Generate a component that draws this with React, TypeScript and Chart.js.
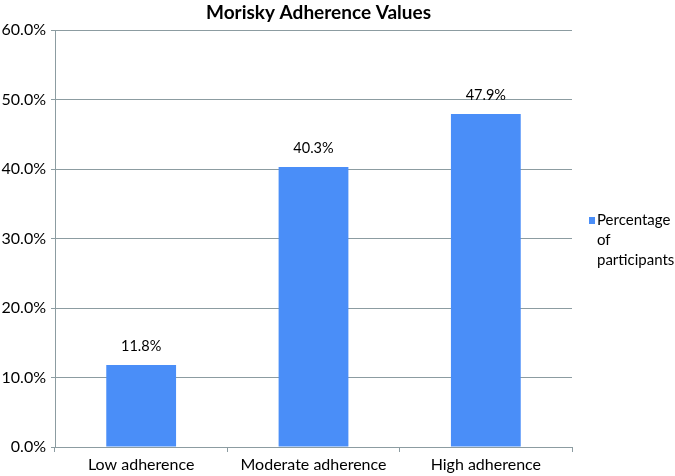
import React, { useEffect, useRef } from "react";
import { Chart, registerables } from "chart.js";

Chart.register(...registerables);

const categories = ["Low adherence", "Moderate adherence", "High adherence"];
const values = [11.8, 40.3, 47.9];
const seriesName = ["Percentage", "of", "participants"];
const titleText = "Morisky Adherence Values";
const yTicks = [0, 10, 20, 30, 40, 50, 60];

const FONT = "Lato, 'Open Sans', sans-serif";
const BAR = "#4A8EF8";
const GRID = "#8C9CA1";

const overlay = {
  id: "overlay",
  afterDatasetsDraw(chart: any) {
    const ctx = chart.ctx;
    const area = chart.chartArea;
    ctx.save();
    // title
    ctx.fillStyle = "#000";
    ctx.font = `bold 19px ${FONT}`;
    ctx.textAlign = "center";
    ctx.textBaseline = "middle";
    ctx.fillText(titleText, (area.left + area.right) / 2 + 5, 13);
    // data labels
    ctx.font = `14.5px ${FONT}`;
    const meta = chart.getDatasetMeta(0);
    meta.data.forEach((el: any, i: number) => {
      ctx.fillText(values[i].toFixed(1) + "%", el.x, el.y - 19);
    });
    // legend
    const lx = area.right + 25;
    const ly = 220;
    ctx.fillStyle = BAR;
    ctx.fillRect(lx - 8, ly - 3, 6, 7);
    ctx.fillStyle = "#000";
    ctx.textAlign = "left";
    ctx.font = `15px ${FONT}`;
    seriesName.forEach((t, i) => ctx.fillText(t, lx, ly + i * 20));
    ctx.restore();
  },
};

export default function App() {
  const ref = useRef<HTMLCanvasElement>(null);
  useEffect(() => {
    const chart = new Chart(ref.current!, {
      type: "bar",
      data: {
        labels: categories,
        datasets: [
          {
            label: seriesName.join(" "),
            data: values,
            backgroundColor: BAR,
            barPercentage: 0.405,
            categoryPercentage: 1,
          },
        ],
      },
      options: {
        animation: false,
        responsive: false,
        maintainAspectRatio: false,
        layout: { padding: { left: 0, right: 103, top: 30, bottom: 0 } },
        plugins: {
          legend: { display: false },
          title: { display: false },
          tooltip: { enabled: false },
        },
        scales: {
          x: {
            afterFit: (s: any) => {
              s.height = 29;
            },
            grid: {
              display: true,
              drawOnChartArea: false,
              drawTicks: true,
              tickLength: 5,
              offset: true,
              color: GRID,
            },
            border: { color: GRID, width: 1 },
            ticks: { color: "#000", font: { family: FONT, size: 16 }, padding: 3 },
          },
          y: {
            min: 0,
            max: 60,
            afterFit: (s: any) => {
              s.width = 55;
            },
            afterBuildTicks: (s: any) => {
              s.ticks = yTicks.map((v) => ({ value: v }));
            },
            grid: { color: GRID, tickLength: 4 },
            border: { color: GRID, width: 1 },
            ticks: {
              color: "#000",
              font: { family: FONT, size: 16 },
              padding: 5,
              callback: (v: any) => Number(v).toFixed(1) + "%",
            },
          },
        },
      },
      plugins: [overlay],
    });
    return () => chart.destroy();
  }, []);
  return (
    <div style={{ position: "fixed", left: 0, top: 0, width: 675, height: 476, background: "#fff" }}>
      <canvas ref={ref} width={675} height={476} style={{ width: 675, height: 476 }} />
    </div>
  );
}
